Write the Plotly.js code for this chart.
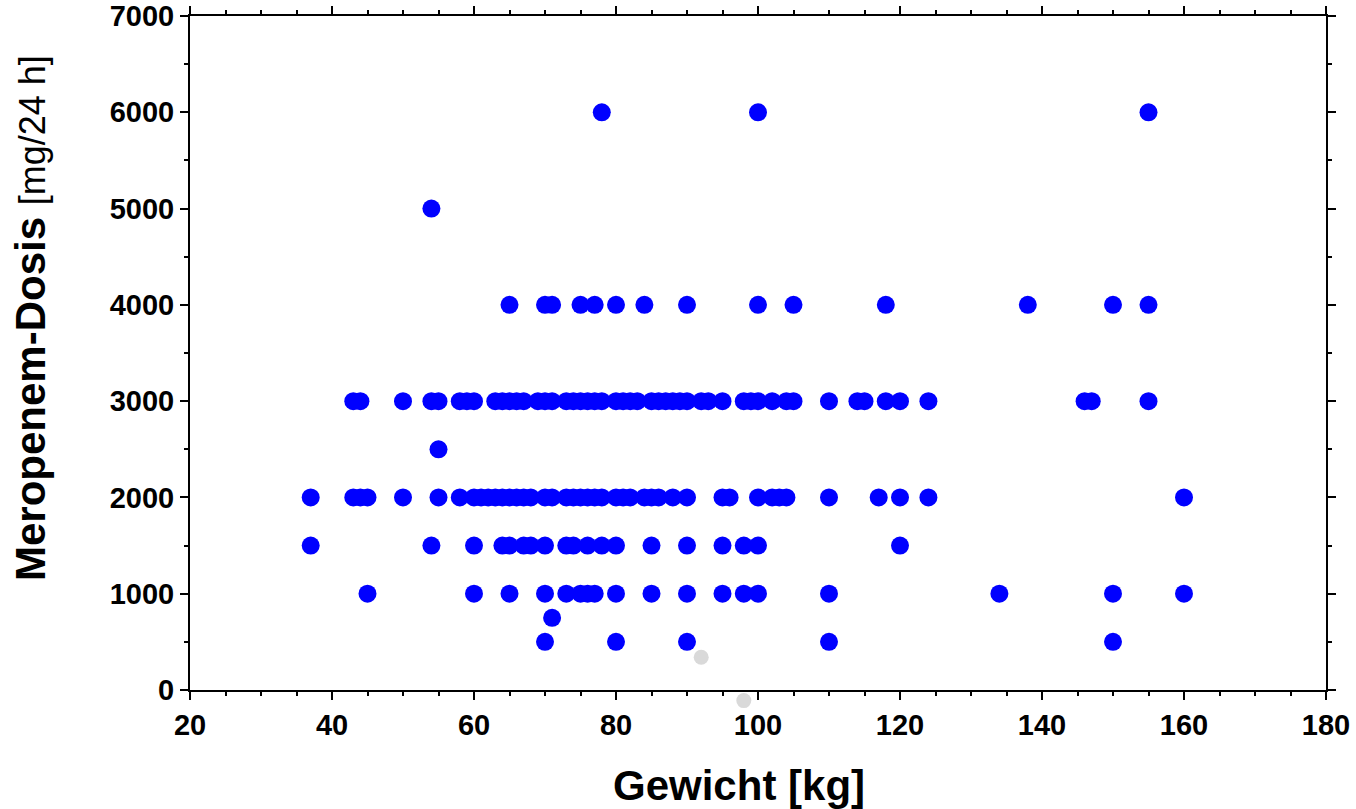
<!DOCTYPE html>
<html>
<head>
<meta charset="utf-8">
<script src="https://cdn.plot.ly/plotly-3.0.1.min.js"></script>
<style>html,body{margin:0;padding:0;background:#fff;}#chart{width:1356px;height:809px;}</style>
</head>
<body>
<div id="chart"></div>
<script>
// Dose levels (mg/24 h) and the body weights (kg) of patients at each level
const doseLevels = [500, 750, 1000, 1500, 2000, 2500, 3000, 4000, 5000, 6000];
const w500  = [70, 80, 90, 110, 150];
const w750  = [71];
const w1000 = [45, 60, 65, 70, 73, 75, 76, 77, 80, 85, 90, 95, 98, 100, 110, 134, 150, 160];
const w1500 = [37, 54, 60, 64, 65, 67, 68, 70, 73, 74, 76, 78, 80, 85, 90, 95, 98, 100, 120];
const w2000 = [37, 43, 44, 45, 50, 55, 58, 60, 61, 62, 63, 64, 65, 66, 67, 68, 70, 71, 73, 74, 75, 76, 77, 78, 80, 81, 82, 84, 85, 86, 88, 90, 95, 96, 100, 102, 103, 104, 110, 117, 120, 124, 160];
const w2500 = [55];
const w3000 = [43, 44, 50, 54, 55, 58, 59, 60, 63, 64, 65, 66, 67, 69, 70, 71, 73, 74, 75, 76, 77, 78, 80, 81, 82, 83, 85, 86, 87, 88, 89, 90, 92, 93, 95, 98, 99, 100, 102, 104, 105, 110, 114, 115, 118, 120, 124, 146, 147, 155];
const w4000 = [65, 70, 71, 75, 77, 80, 84, 90, 100, 105, 118, 138, 150, 155];
const w5000 = [54];
const w6000 = [78, 100, 155];
const weightRows = [w500, w750, w1000, w1500, w2000, w2500, w3000, w4000, w5000, w6000];
// Two excluded (grey) observations
const greyWeight = [92, 98];
const greyDose = [340, -110];

const xTickVals = [20, 40, 60, 80, 100, 120, 140, 160, 180];
const yTickVals = [0, 1000, 2000, 3000, 4000, 5000, 6000, 7000];
const xRange = [20, 180];
const yRange = [0, 7000];

const xs = [], ys = [];
weightRows.forEach((row, i) => row.forEach(w => { xs.push(w); ys.push(doseLevels[i]); }));

// Geometry: plot frame 16..690 px, an extra strip of 30 px below it for the grey point under the axis
const W = 1356, H = 809, mT = 16, mB = 89, frameBottom = 690;
const areaH = H - mT - mB;                 // 704
const extra = (H - mB) - frameBottom;      // 30
const frameH = frameBottom - mT;           // 674
const yDomainBottom = extra / areaH;
const y2Min = -(yRange[1] - yRange[0]) * extra / frameH;

const font = 'Liberation Sans, Arial, Helvetica, sans-serif';
const data = [
  {x: xs, y: ys, type: 'scatter', mode: 'markers', xaxis: 'x', yaxis: 'y',
   marker: {color: '#0000ff', size: 18}},
  {x: greyWeight, y: greyDose, type: 'scatter', mode: 'markers', xaxis: 'x2', yaxis: 'y2',
   marker: {color: '#d9d9d9', size: 15}}
];
const axisCommon = {
  showline: true, linecolor: '#000', linewidth: 2, mirror: 'allticks',
  ticks: 'outside', ticklen: 8, tickwidth: 2, tickcolor: '#000',
  showgrid: false, zeroline: false,
  tickfont: {family: font, size: 29, color: '#000', weight: 'bold'},
  minor: {ticks: 'outside', ticklen: 4, tickwidth: 2, tickcolor: '#000', showgrid: false}
};
const plotW = W - 190 - 30;
const layout = {
  width: W, height: H,
  margin: {l: 190, r: 30, t: mT, b: mB},
  paper_bgcolor: '#fff', plot_bgcolor: 'rgba(0,0,0,0)',
  showlegend: false,
  xaxis: Object.assign({}, axisCommon, {
    range: xRange, tickmode: 'array', tickvals: xTickVals, ticktext: xTickVals.map(String),
    minor: Object.assign({}, axisCommon.minor, {dtick: 5, tick0: 20}),
    anchor: 'y'
  }),
  yaxis: Object.assign({}, axisCommon, {
    range: yRange, domain: [yDomainBottom, 1], anchor: 'x',
    tickmode: 'array', tickvals: yTickVals, ticktext: yTickVals.map(String),
    minor: Object.assign({}, axisCommon.minor, {dtick: 500, tick0: 0})
  }),
  xaxis2: {range: xRange, overlaying: 'x', anchor: 'y2', visible: false},
  yaxis2: {range: [y2Min, yRange[1]], domain: [0, 1], anchor: 'x2', visible: false},
  annotations: [
    {text: "<b>Meropenem-Dosis</b> <span style='font-size:36px'>[mg/24 h]</span>",
     xref: 'paper', yref: 'paper', x: (30 - 190) / plotW, y: ((H - mB) - 318) / areaH,
     xanchor: 'center', yanchor: 'middle', textangle: -90, showarrow: false,
     font: {family: font, size: 42, color: '#000'}},
    {text: '<b>Gewicht [kg]</b>',
     xref: 'paper', yref: 'paper', x: (739 - 190) / plotW, y: ((H - mB) - 785) / areaH,
     xanchor: 'center', yanchor: 'middle', showarrow: false,
     font: {family: font, size: 42, color: '#000'}}
  ]
};
Plotly.newPlot('chart', data, layout, {staticPlot: true, displayModeBar: false});
</script>
</body>
</html>
